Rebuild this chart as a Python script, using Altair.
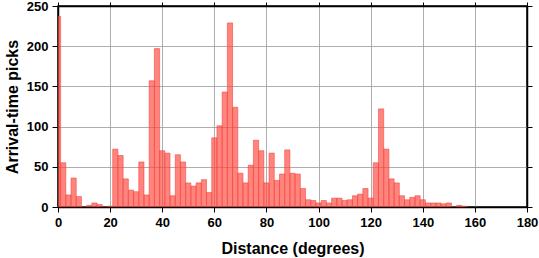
import altair as alt
import pandas as pd

# bin centres (degrees), 2-degree bins centred on even degrees
centers = list(range(0, 158, 2))
counts = [237, 55, 15, 36, 13, 0, 2, 5, 3, 0,
          1, 72, 64, 35, 21, 19, 56, 15, 157, 197,
          70, 67, 14, 65, 56, 30, 26, 30, 34, 18,
          86, 101, 143, 229, 124, 42, 30, 52, 83, 70,
          30, 67, 33, 41, 71, 42, 41, 23, 9, 8,
          5, 8, 5, 11, 11, 8, 9, 14, 16, 23,
          11, 55, 122, 72, 35, 30, 14, 9, 12, 14,
          9, 5, 5, 5, 4, 5, 0, 2, 1]
x_ticks = [0, 20, 40, 60, 80, 100, 120, 140, 160, 180]
y_ticks = [0, 50, 100, 150, 200, 250]

df = pd.DataFrame({"center": centers, "count": counts})
df["lo"] = df["center"] - 1
df["hi"] = df["center"] + 1

FONT = "Liberation Sans"
xs = alt.Scale(domain=[0, 180], nice=False, zero=False)
ys = alt.Scale(domain=[0, 250], nice=False)

bars = alt.Chart(df).mark_bar(
    fill="#FF4A40", fillOpacity=0.68, stroke="#F0423C", strokeOpacity=0.8,
    strokeWidth=0.7, clip=True
).encode(
    x=alt.X("lo:Q", scale=xs, axis=alt.Axis(
        values=x_ticks, title="Distance (degrees)", grid=True, labelFlush=False,
        tickSize=5, labelPadding=4, titlePadding=11, format="d")),
    x2="hi:Q",
    y=alt.Y("count:Q", scale=ys, axis=alt.Axis(
        values=y_ticks, title="Arrival-time picks", grid=True, labelFlush=False,
        tickSize=6, labelPadding=4, titlePadding=6, format="d")),
    y2=alt.datum(0),
)

frame = alt.Chart(df).mark_point(opacity=0).encode(
    x=alt.X("center:Q", scale=xs, axis=alt.Axis(
        orient="top", values=x_ticks, labels=False, title=None, grid=False,
        tickSize=4)),
    y=alt.Y("count:Q", scale=ys, axis=alt.Axis(
        orient="right", values=y_ticks, labels=False, title=None, grid=False,
        tickSize=5)),
)

chart = alt.layer(bars, frame).resolve_axis(
    x="independent", y="independent"
).properties(
    width=469, height=201,
    autosize=alt.AutoSizeParams(type="none"),
    padding={"left": 58, "top": 6, "right": 12, "bottom": 51},
).configure_view(
    stroke="black", strokeWidth=1.5
).configure_axis(
    domainColor="black", domainWidth=1.5,
    tickColor="black", tickWidth=1,
    gridColor="#999999", gridWidth=0.8,
    labelFont=FONT, labelFontSize=13, labelFontWeight="bold", labelColor="black",
    titleFont=FONT, titleFontSize=16, titleFontWeight="bold", titleColor="black",
)

chart.save("out.html", embed_options={"renderer": "svg", "actions": False})
